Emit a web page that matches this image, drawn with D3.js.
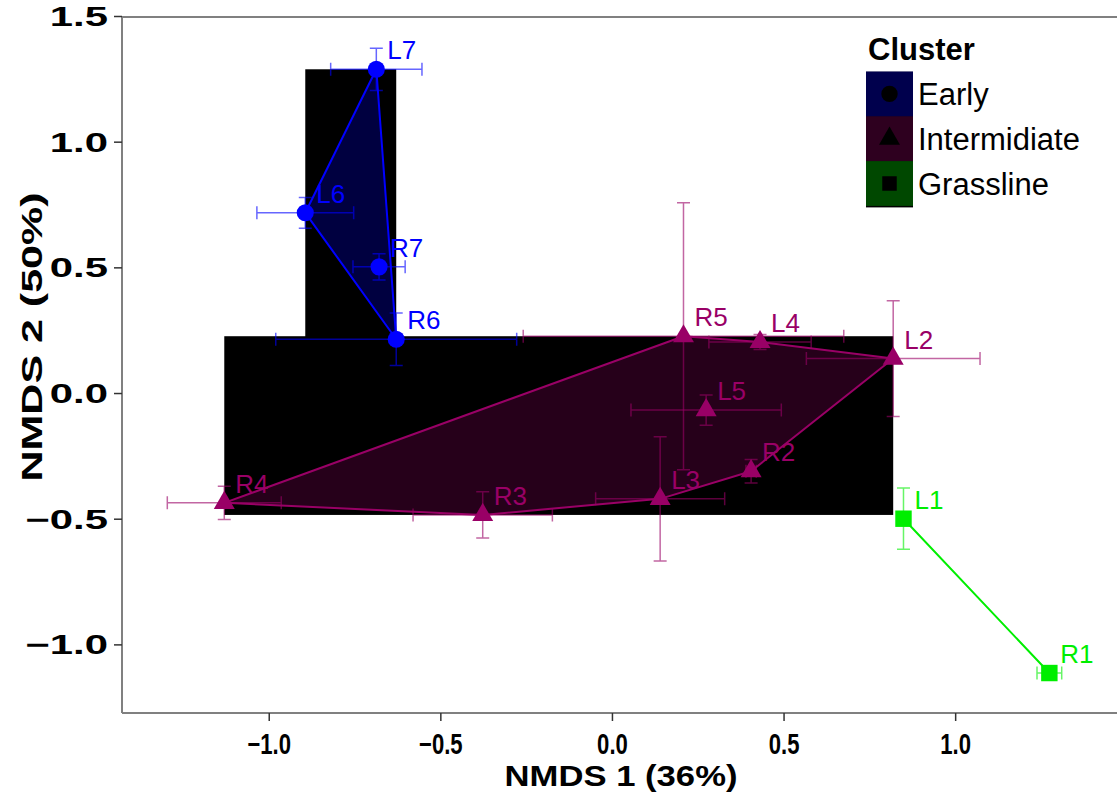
<!DOCTYPE html>
<html lang="en">
<head>
<meta charset="UTF-8">
<title>NMDS</title>
<script src="https://cdn.jsdelivr.net/npm/d3@7/dist/d3.min.js"></script>
<style>
  body { margin: 0; background: #fff; }
  text { font-family: Arial, "Liberation Sans", sans-serif; }
</style>
</head>
<body>
<svg id="chart" width="1117" height="795"></svg>
<script>
// data
var sites   = ['L7', 'L6', 'R7', 'R6', 'R5', 'L4', 'L2', 'L5', 'R2', 'L3', 'R3', 'R4', 'L1', 'R1']
var cluster = ['Early', 'Early', 'Early', 'Early',
               'Intermidiate', 'Intermidiate', 'Intermidiate', 'Intermidiate',
               'Intermidiate', 'Intermidiate', 'Intermidiate', 'Intermidiate',
               'Grassline', 'Grassline']
var nmds1 = [-0.688, -0.895, -0.680, -0.630, 0.207, 0.430, 0.818, 0.273, 0.404, 0.139, -0.378, -1.131, 0.848, 1.273]
var nmds2 = [1.290, 0.719, 0.504, 0.216, 0.228, 0.205, 0.139, -0.066, -0.309, -0.419, -0.483, -0.435, -0.498, -1.112]
var sd1 = [0.133, 0.141, 0.076, 0.351, 0.467, 0.149, 0.253, 0.219, 0.015, 0.188, 0.203, 0.166, 0.010, 0.036]
var sd2 = [0.084, 0.061, 0.052, 0.104, 0.531, 0.030, 0.230, 0.060, 0.047, 0.247, 0.092, 0.066, 0.122, 0.010]

var groups = ['Early', 'Intermidiate', 'Grassline']
var groupColors = ['#0000ff', '#990066', '#00ee00']
var boxGroups = ['Early', 'Intermidiate']   // groups that get the black box

var xTicks = [-1.0, -0.5, 0.0, 0.5, 1.0]
var yTicks = [-1.0, -0.5, 0.0, 0.5, 1.0, 1.5]

var pLeft = 122, pRight = 1118, pTop = 17, pBottom = 713

var x = d3.scaleLinear().domain([-1.429, 1.473]).range([pLeft, pRight])
var y = d3.scaleLinear().domain([-1.271, 1.498]).range([pBottom, pTop])
var color = d3.scaleOrdinal().domain(groups).range(groupColors)
var shape = d3.scaleOrdinal().domain(groups)
    .range([d3.symbolCircle, d3.symbolTriangle, d3.symbolSquare])
var shapeSize = { 'Early': 230, 'Intermidiate': 190, 'Grassline': 270 }

var pts = sites.map(function (s, i) {
    return { site: s, g: cluster[i], x: nmds1[i], y: nmds2[i], sx: sd1[i], sy: sd2[i] }
})

var svg = d3.select('#chart')

// black boxes (bounding box of each group)
boxGroups.forEach(function (g) {
    var p = pts.filter(function (d) { return d.g === g })
    var ex = d3.extent(p, function (d) { return d.x })
    var ey = d3.extent(p, function (d) { return d.y })
    svg.append('rect')
        .attr('x', x(ex[0])).attr('y', y(ey[1]))
        .attr('width', x(ex[1]) - x(ex[0]))
        .attr('height', y(ey[0]) - y(ey[1]))
        .attr('fill', '#000')
})

// hulls
groups.forEach(function (g) {
    var p = pts.filter(function (d) { return d.g === g })
        .map(function (d) { return [x(d.x), y(d.y)] })
    var hull = p.length > 2 ? d3.polygonHull(p) : p
    svg.append('path')
        .attr('d', 'M' + hull.join('L') + 'Z')
        .attr('fill', color(g)).attr('fill-opacity', 0.25)
        .attr('stroke', color(g)).attr('stroke-width', 2)
        .attr('stroke-linejoin', 'round')
})

// error bars
var cap = 6.5
var eb = svg.append('g').attr('stroke-width', 1.5).attr('stroke-opacity', 0.6)
pts.forEach(function (d) {
    var c = color(d.g), cx = x(d.x), cy = y(d.y)
    var x0 = x(d.x - d.sx), x1 = x(d.x + d.sx)
    var y0 = y(d.y - d.sy), y1 = y(d.y + d.sy)
    var path = 'M' + x0 + ',' + cy + 'H' + x1 +
        'M' + x0 + ',' + (cy - cap) + 'V' + (cy + cap) +
        'M' + x1 + ',' + (cy - cap) + 'V' + (cy + cap) +
        'M' + cx + ',' + y0 + 'V' + y1 +
        'M' + (cx - cap) + ',' + y0 + 'H' + (cx + cap) +
        'M' + (cx - cap) + ',' + y1 + 'H' + (cx + cap)
    eb.append('path').attr('d', path).attr('stroke', c).attr('fill', 'none')
})

// points
svg.append('g').selectAll('path').data(pts).join('path')
    .attr('transform', function (d) { return 'translate(' + x(d.x) + ',' + y(d.y) + ')' })
    .attr('d', function (d) { return d3.symbol().type(shape(d.g)).size(shapeSize[d.g])() })
    .attr('fill', function (d) { return color(d.g) })

// labels
svg.append('g').selectAll('text').data(pts).join('text')
    .attr('x', function (d) { return x(d.x) + 11 })
    .attr('y', function (d) { return y(d.y) - 10 })
    .attr('font-size', 26)
    .attr('fill', function (d) { return color(d.g) })
    .text(function (d) { return d.site })

// axes frame
var axisCol = '#808080'
svg.append('line').attr('x1', pLeft).attr('x2', pRight).attr('y1', pTop).attr('y2', pTop)
    .attr('stroke', axisCol).attr('stroke-width', 2)
svg.append('line').attr('x1', pLeft).attr('x2', pLeft).attr('y1', pTop).attr('y2', pBottom)
    .attr('stroke', axisCol).attr('stroke-width', 2)
svg.append('line').attr('x1', pLeft).attr('x2', pRight).attr('y1', pBottom).attr('y2', pBottom)
    .attr('stroke', axisCol).attr('stroke-width', 2)

var fmt = function (v) { return d3.format('.1f')(v).replace('-', '\u2212') }

// y ticks
var yt = svg.append('g')
yTicks.forEach(function (v) {
    yt.append('line').attr('x1', pLeft - 8).attr('x2', pLeft).attr('y1', y(v)).attr('y2', y(v))
        .attr('stroke', '#333').attr('stroke-width', 1.5)
    yt.append('text')
        .attr('transform', 'translate(108,' + (y(v) + 9.5) + ') scale(1.55,1)')
        .attr('text-anchor', 'end').attr('font-size', 27).attr('font-weight', 'bold')
        .text(fmt(v))
})

// x ticks
var xt = svg.append('g')
xTicks.forEach(function (v) {
    xt.append('line').attr('x1', x(v)).attr('x2', x(v)).attr('y1', pBottom).attr('y2', pBottom + 8)
        .attr('stroke', '#333').attr('stroke-width', 1.5)
    xt.append('text')
        .attr('transform', 'translate(' + x(v) + ',754) scale(0.85,1.1)')
        .attr('text-anchor', 'middle').attr('font-size', 26).attr('font-weight', 'bold')
        .text(fmt(v))
})

// axis titles
svg.append('text').attr('transform', 'translate(621,786) scale(1,1.12)')
    .attr('text-anchor', 'middle').attr('font-size', 27).attr('font-weight', 'bold')
    .attr('textLength', 233).attr('lengthAdjust', 'spacingAndGlyphs')
    .text('NMDS 1 (36%)')
svg.append('text').attr('transform', 'translate(42,337) rotate(-90)')
    .attr('text-anchor', 'middle').attr('font-size', 30).attr('font-weight', 'bold')
    .attr('textLength', 289).attr('lengthAdjust', 'spacingAndGlyphs')
    .text('NMDS 2 (50%)')

// legend
var lg = svg.append('g').attr('transform', 'translate(866,0)')
lg.append('text').attr('x', 2).attr('y', 60)
    .attr('font-size', 31).attr('font-weight', 'bold').text('Cluster')
var keyH = 44.8, keyW = 47, keyTop = 71.5
lg.append('rect').attr('x', 0).attr('y', keyTop)
    .attr('width', keyW).attr('height', keyH * groups.length + 1.5).attr('fill', '#000')
groups.forEach(function (g, i) {
    var ky = keyTop + i * keyH
    lg.append('rect').attr('x', 0).attr('y', ky).attr('width', keyW).attr('height', keyH)
        .attr('fill', color(g)).attr('fill-opacity', 0.3)
    lg.append('path')
        .attr('transform', 'translate(' + keyW / 2 + ',' + (ky + keyH / 2) + ')')
        .attr('d', d3.symbol().type(shape(g)).size(g === 'Intermidiate' ? 190 : 210)())
        .attr('fill', '#000')
    lg.append('text').attr('x', 52).attr('y', ky + keyH / 2 + 11)
        .attr('font-size', 31).text(g)
})
</script>
</body>
</html>
